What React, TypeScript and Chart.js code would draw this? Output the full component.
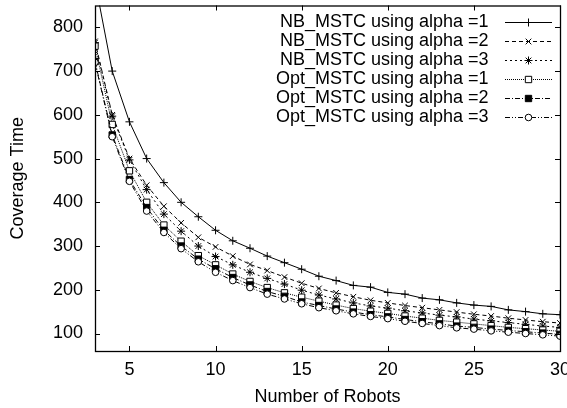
import React, { useEffect, useRef } from 'react';
import { Chart, registerables } from 'chart.js';
import { drawPoint } from 'chart.js/helpers';

Chart.register(...registerables);

const robots = [3, 4, 5, 6, 7, 8, 9, 10, 11, 12, 13, 14, 15, 16, 17, 18, 19, 20, 21, 22, 23, 24, 25, 26, 27, 28, 29, 30];
const nbAlpha1 = [905, 700, 584, 500, 445, 400, 367, 336, 312, 295, 277, 262, 247, 231, 221, 210, 206, 194, 190, 181, 177, 170, 165, 162, 154, 150, 145, 143];
const nbAlpha2 = [768, 600, 500, 439, 391, 353, 320, 298, 277, 258, 244, 229, 215, 203, 193, 184, 176, 170, 164, 159, 154, 149, 144, 140, 135, 131, 127, 124];
const nbAlpha3 = [765, 597, 497, 429, 373, 334, 300, 276, 257, 240, 226, 213, 199, 188, 179, 170, 163, 158, 152, 147, 142, 138, 133, 129, 125, 121, 117, 114];
const optAlpha1 = [757, 578, 472, 400, 348, 311, 278, 257, 236, 219, 205, 193, 183, 174, 165, 157, 151, 146, 140, 135, 130, 126, 122, 118, 114, 111, 108, 105];
const optAlpha2 = [722, 554, 452, 388, 336, 300, 270, 248, 228, 211, 196, 185, 172, 164, 156, 149, 143, 138, 132, 127, 122, 117, 114, 110, 107, 104, 101, 98];
const optAlpha3 = [720, 550, 448, 380, 331, 294, 264, 240, 221, 205, 190, 179, 168, 159, 152, 145, 139, 134, 128, 123, 118, 113, 110, 106, 103, 100, 97, 94];

const seriesLabels = [
  'NB_MSTC using alpha =1',
  'NB_MSTC using alpha =2',
  'NB_MSTC using alpha =3',
  'Opt_MSTC using alpha =1',
  'Opt_MSTC using alpha =2',
  'Opt_MSTC using alpha =3',
];
const xTicks = [5, 10, 15, 20, 25, 30];
const yTicks = [100, 200, 300, 400, 500, 600, 700, 800];

const FONT = "'Liberation Sans', Arial, Helvetica, sans-serif";

const styles = [
  { dash: [], point: 'cross', radius: 4, fill: '#000' },
  { dash: [4, 3], point: 'crossRot', radius: 4, fill: '#000' },
  { dash: [2, 3], point: 'star', radius: 4, fill: '#000' },
  { dash: [1, 1], point: 'rect', radius: 4.5, fill: '#fff' },
  { dash: [5, 2, 1, 2], point: 'rect', radius: 4.5, fill: '#000' },
  { dash: [5, 2, 1, 2, 1, 2], point: 'circle', radius: 3.3, fill: '#fff' },
];

const framePlugin = {
  id: 'frame',
  afterDatasetsDraw(chart: any) {
    const { ctx, chartArea } = chart;
    const { left, right, top, bottom } = chartArea;
    const x = chart.scales.x;
    const y = chart.scales.y;
    ctx.save();
    ctx.strokeStyle = '#000';
    ctx.lineWidth = 1;
    ctx.setLineDash([]);
    ctx.beginPath();
    for (const v of xTicks) {
      const px = Math.round(x.getPixelForValue(v)) + 0.5;
      ctx.moveTo(px, bottom);
      ctx.lineTo(px, bottom - 5);
      ctx.moveTo(px, top);
      ctx.lineTo(px, top + 5);
    }
    for (const v of yTicks) {
      const py = Math.round(y.getPixelForValue(v)) + 0.5;
      ctx.moveTo(left, py);
      ctx.lineTo(left + 5, py);
      ctx.moveTo(right, py);
      ctx.lineTo(right - 5, py);
    }
    ctx.stroke();
    ctx.lineWidth = 1.3;
    ctx.strokeRect(left + 0.5, top + 0.5, right - left, bottom - top);

    // legend
    ctx.font = `18px ${FONT}`;
    ctx.fillStyle = '#000';
    ctx.textAlign = 'right';
    ctx.textBaseline = 'middle';
    chart.data.datasets.forEach((ds: any, i: number) => {
      const rowY = 21.7 + i * 19;
      ctx.fillText(ds.label, 488.5, rowY);
      ctx.save();
      ctx.lineWidth = 1;
      ctx.strokeStyle = '#000';
      ctx.setLineDash(ds.borderDash || []);
      ctx.beginPath();
      ctx.moveTo(505, Math.round(rowY) + 0.5);
      ctx.lineTo(552, Math.round(rowY) + 0.5);
      ctx.stroke();
      ctx.setLineDash([]);
      ctx.fillStyle = ds.pointBackgroundColor;
      ctx.strokeStyle = '#000';
      drawPoint(ctx, { pointStyle: ds.pointStyle, radius: ds.pointRadius, rotation: 0, borderWidth: 1 }, 528.5, Math.round(rowY) + 0.5);
      ctx.restore();
    });
    ctx.restore();
  },
};

export default function App() {
  const ref = useRef<HTMLCanvasElement | null>(null);
  useEffect(() => {
    if (!ref.current) return;
    const series = [nbAlpha1, nbAlpha2, nbAlpha3, optAlpha1, optAlpha2, optAlpha3];
    const chart = new Chart(ref.current, {
      type: 'line',
      data: {
        datasets: series.map((vals, i) => ({
          label: seriesLabels[i],
          data: robots.map((r, j) => ({ x: r, y: vals[j] })),
          borderColor: '#000',
          borderWidth: 1,
          borderDash: styles[i].dash,
          pointStyle: styles[i].point as any,
          pointRadius: styles[i].radius,
          pointBorderWidth: 1,
          pointBorderColor: '#000',
          pointBackgroundColor: styles[i].fill,
          backgroundColor: styles[i].fill,
          fill: false,
          tension: 0,
          order: 5 - i,
        })),
      },
      options: {
        animation: false,
        responsive: false,
        events: [],
        layout: { padding: { top: 5, right: 7, left: 0, bottom: 0 } },
        plugins: { legend: { display: false }, tooltip: { enabled: false } },
        scales: {
          x: {
            type: 'linear',
            min: 3,
            max: 30,
            grid: { display: false, drawTicks: false },
            border: { display: false },
            afterBuildTicks: (s: any) => {
              s.ticks = xTicks.map((v) => ({ value: v }));
            },
            afterFit: (s: any) => {
              s.height = 57;
              s.paddingLeft = 0;
              s.paddingRight = 0;
            },
            ticks: {
              font: { family: FONT, size: 18 },
              color: '#000',
              padding: 8,
              maxRotation: 0,
              autoSkip: false,
            },
            title: {
              display: true,
              text: 'Number of Robots',
              font: { family: FONT, size: 18 },
              color: '#000',
              padding: { top: 0, bottom: 0 },
            },
          },
          y: {
            type: 'linear',
            min: 60,
            max: 850,
            grid: { display: false, drawTicks: false },
            border: { display: false },
            afterBuildTicks: (s: any) => {
              s.ticks = yTicks.map((v) => ({ value: v }));
            },
            afterFit: (s: any) => {
              s.width = 95;
              s.paddingTop = 0;
              s.paddingBottom = 0;
            },
            ticks: {
              font: { family: FONT, size: 18 },
              color: '#000',
              padding: 12,
              autoSkip: false,
            },
            title: {
              display: true,
              text: 'Coverage Time',
              font: { family: FONT, size: 18 },
              color: '#000',
              padding: { top: 7, bottom: 0 },
            },
          },
        },
      },
      plugins: [framePlugin],
    });
    return () => chart.destroy();
  }, []);
  return (
    <div style={{ position: 'absolute', left: 0, top: 0, width: 567, height: 408, background: '#fff' }}>
      <canvas ref={ref} width={567} height={408} style={{ width: 567, height: 408, display: 'block' }} />
    </div>
  );
}
